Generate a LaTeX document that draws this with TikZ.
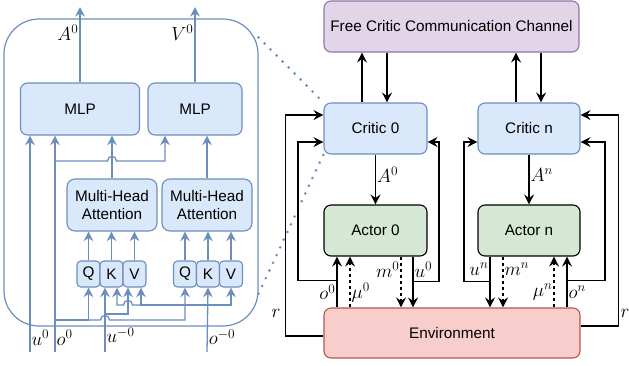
\RequirePackage{fix-cm}
\documentclass[tikz,border=0pt]{standalone}
\usepackage[no-math]{fontspec}
\newfontfamily\arialf{Liberation Sans}
\usetikzlibrary{arrows.meta,calc}

\definecolor{bfill}{HTML}{DAE8FC}
\definecolor{bline}{HTML}{6C8EBF}
\definecolor{gfill}{HTML}{D5E8D4}
\definecolor{rfill}{HTML}{F8CECC}
\definecolor{rline}{HTML}{B85450}
\definecolor{pfill}{HTML}{E1D5E7}
\definecolor{pline}{HTML}{9673A6}

\begin{document}
\begin{tikzpicture}[x=1pt,y=-1pt,
  box/.style={draw, rounded corners=7pt, line width=1.1pt, font=\arialf\fontsize{15.3}{18}\selectfont, inner sep=0pt, align=center, text=black},
  bbox/.style={box, fill=bfill, draw=bline},
  abox/.style={box, fill=gfill, draw=black},
  barr/.style={draw=bline, line width=1.3pt, -{Stealth[length=9.5pt,width=9.5pt,inset=3pt]}},
  karr/.style={draw=black, line width=1.3pt, -{Stealth[length=10pt,width=10pt,inset=3.5pt]}},
  dsh/.style={dash pattern=on 3pt off 3pt},
  lab/.style={font=\fontsize{19}{22}\selectfont, inner sep=1pt},
  dotline/.style={draw=bline, line width=2.9pt, line cap=round, dash pattern=on 0pt off 8.5pt},
]
\useasboundingbox (0,0) rectangle (629,365);

% ---------- left panel ----------
\node[draw=bline, line width=1.2pt, rounded corners=35pt, minimum width=254pt, minimum height=307pt, inner sep=0pt] (panel) at (131,172.5) {};

\node[bbox, minimum width=119pt, minimum height=52pt] (mlp1) at (80,109) {MLP};
\node[bbox, minimum width=94pt, minimum height=52pt] (mlp2) at (195,109) {MLP};
\node[bbox, minimum width=90pt, minimum height=52pt, rounded corners=8pt] (mha1) at (112,205) {Multi-Head\\Attention};
\node[bbox, minimum width=90pt, minimum height=52pt, rounded corners=8pt] (mha2) at (207,205) {Multi-Head\\Attention};
\node[bbox, minimum width=23pt, minimum height=26pt, rounded corners=4pt] (q1) at (88.5,274) {Q};
\node[bbox, minimum width=23pt, minimum height=26pt, rounded corners=4pt] (k1) at (111.5,274) {K};
\node[bbox, minimum width=23pt, minimum height=26pt, rounded corners=4pt] (v1) at (134.5,274) {V};
\node[bbox, minimum width=23pt, minimum height=26pt, rounded corners=4pt] (q2) at (185,274) {Q};
\node[bbox, minimum width=23pt, minimum height=26pt, rounded corners=4pt] (k2) at (208,274) {K};
\node[bbox, minimum width=23pt, minimum height=26pt, rounded corners=4pt] (v2) at (231,274) {V};

\coordinate (a0out) at (80,7);
\coordinate (v0out) at (195,7);
\coordinate (u0in) at (30,352);
\coordinate (o0in) at (55,352);
\coordinate (umin) at (105,352);
\coordinate (omin) at (207,352);
\coordinate (jo1) at (55,161);
\coordinate (jo2) at (55,320);
\coordinate (ju) at (105,314);
\coordinate (jm) at (207,305);

\draw[barr] (mlp1.north) -- (a0out) node[lab, pos=0.66, left] {$A^0$};
\draw[barr] (mlp2.north) -- (v0out) node[lab, pos=0.66, left] {$V^0$};
\draw[barr] (u0in) -- (u0in |- mlp1.south) node[lab, pos=0.065, right] {$u^0$};
\draw[barr] (o0in) -- (o0in |- mlp1.south) node[lab, pos=0.065, right] {$o^0$};
\draw[barr] (jo1) -- (107.5,161) .. controls (107.5,155) and (116.5,155) .. (116.5,161) -- (165,161) -- ([xshift=-30pt]mlp2.south);
\draw[barr] (mha1.north) -- (mha1.north |- mlp1.south);
\draw[barr] (mha2.north) -- (mha2.north |- mlp2.south);
\foreach \n/\m in {q1/mha1,k1/mha1,v1/mha1,q2/mha2,k2/mha2,v2/mha2}
  \draw[barr] (\n.north) -- (\n.north |- \m.south);
\draw[barr] (jo2) -| (q1.south);
\draw[barr] (jo2 -| q1.south) -- (100.5,320) .. controls (100.5,314) and (109.5,314) .. (109.5,320) -| (q2.south);
\draw[barr] (umin) -- ([xshift=-6.5pt]k1.south) node[lab, pos=0.26, right] {$u^{-0}$};
\draw[barr] (ju) -| ([xshift=-6.5pt]v1.south);
\draw[barr] (omin) -- (k2.south) node[lab, pos=0.23, right] {$o^{-0}$};
\draw[barr] (jm) -- (132.5,305) .. controls (132.5,299) and (123.5,299) .. (123.5,305) -| ([xshift=5.5pt]k1.south);
\draw[barr] (jm) -| ([xshift=6.5pt]v1.south);
\draw[barr] (jm) -| (v2.south);

% ---------- right panel ----------
\node[box, fill=pfill, draw=pline, minimum width=255pt, minimum height=51pt] (ch) at (451.5,26.5) {Free Critic Communication Channel};
\node[bbox, minimum width=103pt, minimum height=51pt] (c0) at (375.5,128.5) {Critic 0};
\node[bbox, minimum width=102pt, minimum height=51pt] (cn) at (529,128.5) {Critic n};
\node[abox, minimum width=103pt, minimum height=51pt] (a0) at (375.5,230.5) {Actor 0};
\node[abox, minimum width=102pt, minimum height=51pt] (an) at (529,230.5) {Actor n};
\node[box, fill=rfill, draw=rline, minimum width=256pt, minimum height=50pt] (env) at (452,333) {Environment};

\draw[dotline] ([yshift=-19pt]panel.north east) -- (c0.north west);
\draw[dotline] ([yshift=33pt]panel.south east) -- (c0.south west);

\draw[karr] ([xshift=-13.5pt]c0.north) -- ([xshift=-89.5pt]ch.south);
\draw[karr] ([xshift=-64.5pt]ch.south) -- ([xshift=11.5pt]c0.north);
\draw[karr] ([xshift=-13pt]cn.north) -- ([xshift=64.5pt]ch.south);
\draw[karr] ([xshift=89.5pt]ch.south) -- ([xshift=12pt]cn.north);

\draw[karr] (c0.south) -- (a0.north) node[lab, pos=0.4, right] {$A^0$};
\draw[karr] (cn.south) -- (an.north) node[lab, pos=0.4, right] {$A^n$};

% actor 0 links
\draw[karr] ([xshift=-115pt]env.north) -- ([xshift=-38.5pt]a0.south) node[lab, pos=0.3, left] {$o^0$};
\draw[karr, dsh] ([xshift=-102pt]env.north) -- ([xshift=-25.5pt]a0.south) node[lab, pos=0.3, right] {$\mu^0$};
\draw[karr, dsh] ([xshift=25.5pt]a0.south) -- ([xshift=-51pt]env.north) node[lab, pos=0.25, left] {$m^0$};
\draw[karr] ([xshift=37.5pt]a0.south) -- ([xshift=-39pt]env.north) node[lab, pos=0.25, right] {$u^0$};
\draw[karr] ([xshift=-115pt]env.north) ++(0,-27) -- ++(-39,0) |- ([yshift=-13.5pt]c0.west);
\draw[karr] ([xshift=37.5pt]a0.south) ++(0,25) -- ++(26,0) |- ([yshift=-13.5pt]c0.east);
\draw[karr] ([yshift=-3pt]env.west) -- ++(-38,0) |- ([yshift=13.5pt]c0.west);
\node[lab] (rl) at (276,313) {$r$};

% actor n links
\draw[karr] ([xshift=-39pt]an.south) -- ([xshift=38pt]env.north) node[lab, pos=0.25, left] {$u^n$};
\draw[karr, dsh] ([xshift=-26pt]an.south) -- ([xshift=51pt]env.north) node[lab, pos=0.25, right] {$m^n$};
\draw[karr, dsh] ([xshift=102pt]env.north) -- ([xshift=25pt]an.south) node[lab, pos=0.3, left] {$\mu^n$};
\draw[karr] ([xshift=115pt]env.north) -- ([xshift=38pt]an.south) node[lab, pos=0.3, right] {$o^n$};
\draw[karr] ([xshift=-39pt]an.south) ++(0,25) -- ++(-26,0) |- ([yshift=-13.5pt]cn.west);
\draw[karr] ([xshift=115pt]env.north) ++(0,-27) -- ++(38,0) |- ([yshift=-13.5pt]cn.east);
\draw[karr] ([yshift=7pt]env.east) -- ++(38,0) |- ([yshift=13.5pt]cn.east);
\node[lab] (rr) at (625,313) {$r$};
\end{tikzpicture}
\end{document}
